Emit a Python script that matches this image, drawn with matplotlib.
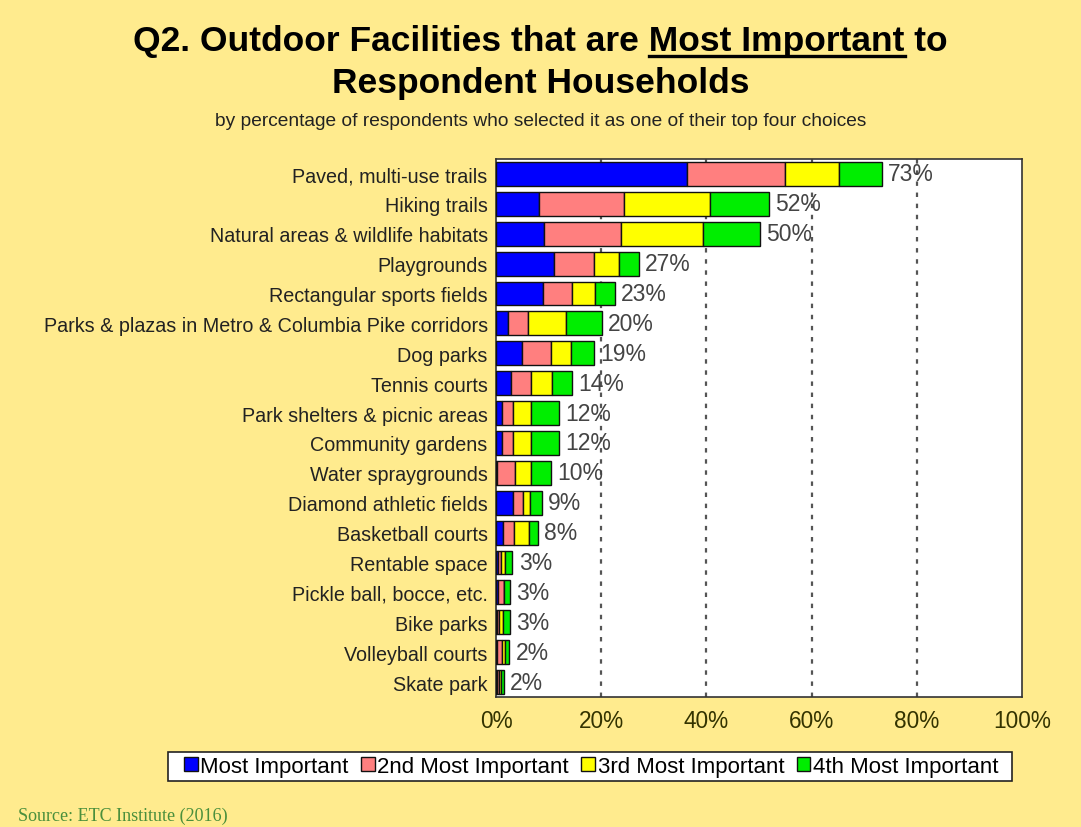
import numpy as np
import matplotlib
matplotlib.use("Agg")
import matplotlib.pyplot as plt
from matplotlib.patches import Patch, Rectangle
from matplotlib.lines import Line2D

# Dados (percentual de respondentes)
categorias = [
    "Paved, multi-use trails",
    "Hiking trails",
    "Natural areas & wildlife habitats",
    "Playgrounds",
    "Rectangular sports fields",
    "Parks & plazas in Metro & Columbia Pike corridors",
    "Dog parks",
    "Tennis courts",
    "Park shelters & picnic areas",
    "Community gardens",
    "Water spraygrounds",
    "Diamond athletic fields",
    "Basketball courts",
    "Rentable space",
    "Pickle ball, bocce, etc.",
    "Bike parks",
    "Volleyball courts",
    "Skate park",
]
primeiro = [36.3, 8.2, 9.2, 11.0, 9.0, 2.3, 5.0, 2.9, 1.2, 1.2, 0.2, 3.2, 1.4, 0.3, 0.3, 0.2, 0.2, 0.2]
segundo = [18.7, 16.2, 14.6, 7.6, 5.4, 3.7, 5.4, 3.8, 2.1, 2.0, 3.4, 2.0, 2.0, 0.6, 1.2, 0.3, 1.0, 0.3]
terceiro = [10.3, 16.3, 15.6, 4.7, 4.4, 7.3, 3.9, 4.0, 3.4, 3.4, 3.0, 1.3, 2.8, 0.9, 0.1, 0.9, 0.5, 0.5]
quarto = [8.0, 11.2, 10.8, 3.8, 3.8, 6.8, 4.4, 3.8, 5.3, 5.3, 3.8, 2.2, 1.8, 1.3, 1.1, 1.2, 0.8, 0.5]
totais = ["73%", "52%", "50%", "27%", "23%", "20%", "19%", "14%", "12%", "12%",
          "10%", "9%", "8%", "3%", "3%", "3%", "2%", "2%"]
series = ["Most Important", "2nd Most Important", "3rd Most Important", "4th Most Important"]
cores = ["#0000FF", "#FF7F7F", "#FFFF00", "#00EE00"]
ticks_x = [0, 20, 40, 60, 80, 100]

fundo = "#FFEB8E"
fonte = "Liberation Sans"
fig = plt.figure(figsize=(10.81, 8.28), dpi=100, facecolor=fundo)
ax = fig.add_axes([496/1081, 1-698/828, (1022-496)/1081, (698-160)/828])
ax.set_facecolor("white")

y = np.arange(len(categorias))
esquerda = np.zeros(len(categorias))
for valores, cor in zip([primeiro, segundo, terceiro, quarto], cores):
    ax.barh(y, valores, left=esquerda, height=0.8, color=cor,
            edgecolor="#111111", linewidth=1.0, zorder=3)
    esquerda = esquerda + np.array(valores)

for yi, fim, txt in zip(y, esquerda, totais):
    ax.text(fim + 1.2, yi, txt, va="center", ha="left", fontsize=16.5,
            color="#444444", family=fonte, zorder=4)

ax.set_xlim(0, 100)
ax.set_ylim(len(categorias) - 0.5, -0.5)
ax.set_xticks(ticks_x)
ax.set_xticklabels([f"{t}%" for t in ticks_x], fontsize=16.3, color="#333300", family=fonte)
ax.set_yticks(y)
ax.set_yticklabels(categorias, fontsize=14.2, color="#222222", family=fonte)
ax.tick_params(length=0, pad=6)
ax.tick_params(axis="x", pad=9)
for xv in ticks_x[1:-1]:
    ax.axvline(xv, color="#555555", linestyle=(0, (2, 3)), linewidth=1.6, zorder=1)
for lado in ax.spines.values():
    lado.set_color("#333333")
    lado.set_linewidth(1.2)

# Titulo com "Most Important" sublinhado
fonte_titulo = dict(fontsize=25.5, fontweight="bold", family=fonte, color="black")
linha1 = "Q2. Outdoor Facilities that are Most Important to"
t1 = fig.text(0.5, 1-42/828, linha1, ha="center", va="center", **fonte_titulo)
fig.text(0.5, 1-83/828, "Respondent Households", ha="center", va="center", **fonte_titulo)
fig.text(0.5, 1-122/828, "by percentage of respondents who selected it as one of their top four choices",
         ha="center", va="center", fontsize=13.8, family=fonte, color="#222222")

fig.canvas.draw()
rend = fig.canvas.get_renderer()
bb = t1.get_window_extent(rend)
aux1 = fig.text(0, 0, "Q2. Outdoor Facilities that are Most Important", **fonte_titulo)
aux2 = fig.text(0, 0, "Most Important", **fonte_titulo)
w1 = aux1.get_window_extent(rend).width
w2 = aux2.get_window_extent(rend).width
aux1.remove()
aux2.remove()
x_fim = bb.x0 + w1
x_ini = x_fim - w2
y_sub = bb.y0 + 2
fig.add_artist(Line2D([x_ini / fig.bbox.width, x_fim / fig.bbox.width],
                      [y_sub / fig.bbox.height, y_sub / fig.bbox.height],
                      color="black", linewidth=2.4, transform=fig.transFigure))

# Legenda: caixa branca separada + entradas
fig.add_artist(Rectangle((168/1081, 1-782/828), (1012-168)/1081, 29/828,
                         transform=fig.transFigure, facecolor="white",
                         edgecolor="#222222", linewidth=1.2, zorder=1))
handles = [Patch(facecolor=c, edgecolor="#111111", linewidth=1.0) for c in cores]
leg = fig.legend(handles, series, ncol=4, loc="center left",
                 bbox_to_anchor=(184/1081, 1-767.5/828), frameon=False,
                 handlelength=0.62, handleheight=0.62, handletextpad=0.12,
                 columnspacing=0.55, borderaxespad=0, borderpad=0,
                 prop=dict(family=fonte, size=16))
leg.set_zorder(2)

fig.text(18/1081, 1-816/828, "Source: ETC Institute (2016)", ha="left", va="center",
         fontsize=13, family="Liberation Serif", color="#4A8F3C")

fig.savefig("out.png", dpi=100, facecolor=fundo)
